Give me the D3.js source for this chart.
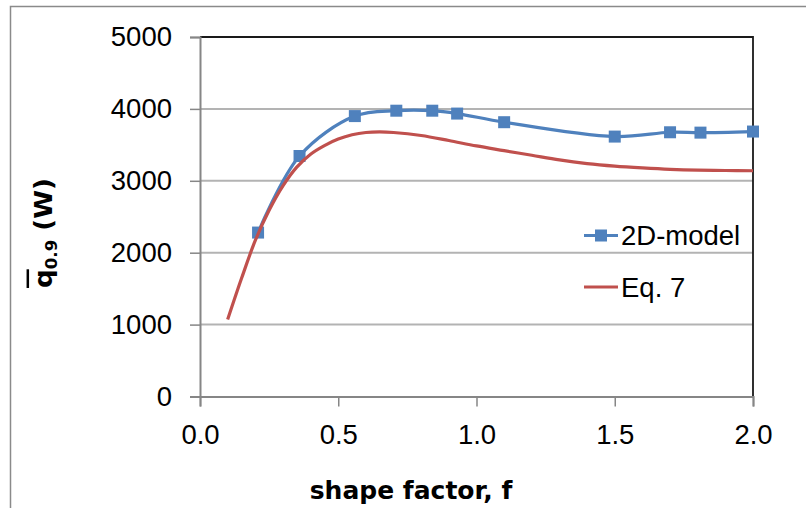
<!DOCTYPE html>
<html><head><meta charset="utf-8">
<script src="https://cdn.jsdelivr.net/npm/d3@7"></script>
<style>body{margin:0;background:#fff;} svg{display:block;}</style>
</head><body>
<svg id="chart" width="806" height="508"></svg>
<script>
// Data
const modelF = [0.21, 0.36, 0.56, 0.71, 0.84, 0.93, 1.1, 1.5, 1.7, 1.81, 2.0];
const modelQ = [2280, 3345, 3900, 3975, 3975, 3935, 3815, 3615, 3675, 3670, 3685];
const eqF = [0.10, 0.15, 0.20, 0.25, 0.30, 0.35, 0.40, 0.45, 0.50, 0.55, 0.60, 0.65, 0.70, 0.80, 0.90, 1.00, 1.10, 1.20, 1.30, 1.40, 1.50, 1.60, 1.70, 1.80, 1.90, 2.00];
const eqQ = [1070, 1640, 2170, 2590, 2930, 3190, 3370, 3490, 3580, 3640, 3672, 3680, 3672, 3630, 3560, 3485, 3420, 3355, 3290, 3240, 3205, 3180, 3160, 3148, 3143, 3140];
const xTicks = [0, 0.5, 1.0, 1.5, 2.0];
const yTicks = [0, 1000, 2000, 3000, 4000, 5000];
const seriesNames = ["2D-model", "Eq. 7"];

const svg = d3.select("#chart");
const blue = "#4F81BD", red = "#C0504D";
const L = 200, R = 753, T = 37, B = 396.5;
const x = d3.scaleLinear().domain([0, 2]).range([L, R]);
const y = d3.scaleLinear().domain([0, 5000]).range([B, T]);

// outer border
svg.append("rect").attr("x", 10.5).attr("y", 6.5).attr("width", 900).attr("height", 600)
  .attr("fill", "none").attr("stroke", "#8a8a8a").attr("stroke-width", 1.5);

// gridlines
svg.append("g").selectAll("line").data(yTicks.filter(d => d > 0 && d < 5000)).join("line")
  .attr("x1", L).attr("x2", R).attr("y1", d => y(d)).attr("y2", d => y(d))
  .attr("stroke", "#b3b3b3").attr("stroke-width", 2);

// plot border top/right
svg.append("path").attr("d", `M${L},${T}H${R}V${B}`).attr("fill", "none")
  .attr("stroke", "#1a1a1a").attr("stroke-width", 1.8);

// y axis
const yAxis = d3.axisLeft(y).tickValues(yTicks).tickSize(10).tickPadding(18).tickFormat(d3.format("d"));
const gy = svg.append("g").attr("transform", `translate(${L},0)`).call(yAxis);
gy.select(".domain").attr("stroke", "#868686").attr("stroke-width", 2);
gy.selectAll(".tick line").attr("stroke", "#868686").attr("stroke-width", 1.5);
gy.selectAll(".tick text").attr("font-family", "Liberation Sans, Arial, sans-serif")
  .attr("font-size", 27.5).attr("fill", "#000");

// x axis
const xAxis = d3.axisBottom(x).tickValues(xTicks).tickSize(10).tickPadding(18).tickFormat(d3.format(".1f"));
const gx = svg.append("g").attr("transform", `translate(0,${B})`).call(xAxis);
gx.select(".domain").attr("stroke", "#868686").attr("stroke-width", 2);
gx.selectAll(".tick line").attr("stroke", "#868686").attr("stroke-width", 1.5);
gx.selectAll(".tick text").attr("font-family", "Liberation Sans, Arial, sans-serif")
  .attr("font-size", 27.5).attr("fill", "#000");

// series
const modelData = modelF.map((f, i) => [f, modelQ[i]]);
const eqData = eqF.map((f, i) => [f, eqQ[i]]);
const lineGen = d3.line().x(d => x(d[0])).y(d => y(d[1])).curve(d3.curveCatmullRom.alpha(0.5));

svg.append("path").datum(modelData).attr("d", lineGen).attr("fill", "none")
  .attr("stroke", blue).attr("stroke-width", 3.2);
const ms = 12;
svg.append("g").selectAll("rect").data(modelData).join("rect")
  .attr("x", d => x(d[0]) - ms / 2).attr("y", d => y(d[1]) - ms / 2)
  .attr("width", ms).attr("height", ms).attr("fill", blue);

svg.append("path").datum(eqData).attr("d", lineGen).attr("fill", "none")
  .attr("stroke", red).attr("stroke-width", 3.2);

// legend
const lg = svg.append("g");
const legY = [235.5, 287];
lg.append("line").attr("x1", 584).attr("x2", 618).attr("y1", legY[0]).attr("y2", legY[0])
  .attr("stroke", blue).attr("stroke-width", 3.2);
lg.append("rect").attr("x", 601 - ms / 2).attr("y", legY[0] - ms / 2).attr("width", ms).attr("height", ms).attr("fill", blue);
lg.append("line").attr("x1", 584).attr("x2", 618).attr("y1", legY[1]).attr("y2", legY[1])
  .attr("stroke", red).attr("stroke-width", 3.2);
seriesNames.forEach((n, i) => {
  lg.append("text").attr("x", 621).attr("y", legY[i]).attr("dy", "0.35em")
    .attr("font-family", "Liberation Sans, Arial, sans-serif").attr("font-size", 27.5)
    .attr("fill", "#000").text(n);
});

// x label
svg.append("text").attr("x", 411).attr("y", 499).attr("text-anchor", "middle")
  .attr("font-family", "DejaVu Sans, sans-serif").attr("font-weight", "bold").attr("font-size", 25)
  .attr("fill", "#000").text("shape factor, f");

// y label
const yl = svg.append("text").attr("text-anchor", "middle")
  .attr("font-family", "DejaVu Sans, sans-serif").attr("font-weight", "bold").attr("font-size", 25)
  .attr("fill", "#000");
yl.append("tspan").attr("text-decoration", "overline").style("text-decoration", "overline").text("q");
yl.append("tspan").attr("font-size", 16).attr("dy", 5).text("0.9");
yl.append("tspan").attr("dy", -5).text(" (W)");
const w = yl.node().getComputedTextLength();
const sx = 110 / w;
yl.attr("transform", `translate(52,233) rotate(-90) scale(${sx},1)`);
</script>
</body></html>
